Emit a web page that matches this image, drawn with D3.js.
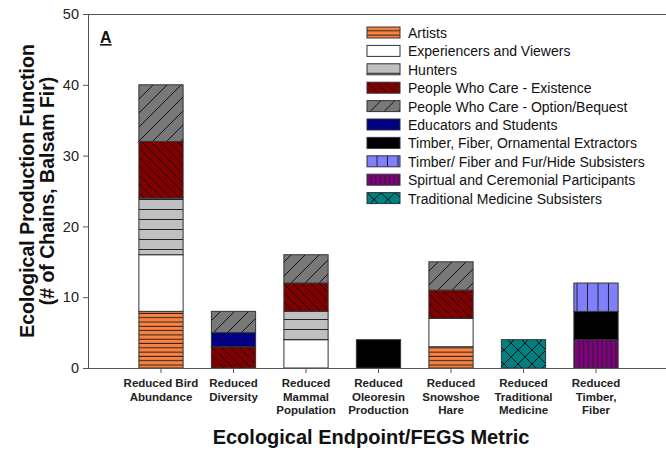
<!DOCTYPE html>
<html>
<head>
<meta charset="utf-8">
<script src="https://cdn.jsdelivr.net/npm/d3@7"></script>
<style>
  body { margin: 0; background: #fff; }
  text { font-family: Arial, "Liberation Sans", sans-serif; }
</style>
</head>
<body>
<div class="chart"></div>
<script>
// categories (x axis), one entry per bar, split into label lines
var categories = ["Bird", "Diversity", "Mammal", "Oleoresin", "Hare", "Medicine", "Timber"];
var categoryLines = [
  ["Reduced Bird", "Abundance"],
  ["Reduced", "Diversity"],
  ["Reduced", "Mammal", "Population"],
  ["Reduced", "Oleoresin", "Production"],
  ["Reduced", "Snowshoe", "Hare"],
  ["Reduced", "Traditional", "Medicine"],
  ["Reduced", "Timber,", "Fiber"]
];

// legend order
var groups = [
  "Artists",
  "Experiencers and Viewers",
  "Hunters",
  "People Who Care - Existence",
  "People Who Care - Option/Bequest",
  "Educators and Students",
  "Timber, Fiber, Ornamental Extractors",
  "Timber/ Fiber and Fur/Hide Subsisters",
  "Spirtual and Ceremonial Participants",
  "Traditional Medicine Subsisters"
];

// values per group, same order as categories
var artists      = [8, 0, 0, 0, 3, 0, 0];
var experiencers = [8, 0, 4, 0, 4, 0, 0];
var hunters      = [8, 0, 4, 0, 0, 0, 0];
var existence    = [8, 3, 4, 0, 4, 0, 0];
var option       = [8, 3, 4, 0, 4, 0, 0];
var educators    = [0, 2, 0, 0, 0, 0, 0];
var extractors   = [0, 0, 0, 4, 0, 0, 4];
var subsisters   = [0, 0, 0, 0, 0, 0, 4];
var spiritual    = [0, 0, 0, 0, 0, 0, 4];
var tradMedicine = [0, 0, 0, 0, 0, 4, 0];

var seriesValues = [artists, experiencers, hunters, existence, option,
  educators, extractors, subsisters, spiritual, tradMedicine];

// bottom to top order in the bars
var stackOrder = [8, 0, 1, 2, 3, 5, 4, 6, 7, 9];

var yTicks = [0, 10, 20, 30, 40, 50];

// build table for d3.stack
var table = categories.map(function (c, i) {
  var row = { category: c };
  groups.forEach(function (g, j) { row[g] = seriesValues[j][i]; });
  return row;
});

var width = 666;
var height = 452;
var plotLeft = 88, plotTop = 14, plotBottom = 368;

var svg = d3.select(".chart").append("svg")
  .attr("width", width)
  .attr("height", height);

// hatch patterns
var defs = svg.append("defs");
function pattern(id, size, bg, draw) {
  var p = defs.append("pattern")
    .attr("id", id)
    .attr("patternUnits", "userSpaceOnUse")
    .attr("width", size)
    .attr("height", size);
  p.append("rect").attr("width", size).attr("height", size).attr("fill", bg);
  draw(p, size);
}
function hLine(p, s) {
  p.append("line").attr("x1", 0).attr("x2", s).attr("y1", s - 0.5).attr("y2", s - 0.5)
    .attr("stroke", "#222").attr("stroke-width", 1);
}
function vLine(p, s) {
  p.append("line").attr("y1", 0).attr("y2", s).attr("x1", s - 0.5).attr("x2", s - 0.5)
    .attr("stroke", "#222").attr("stroke-width", 1);
}
function backDiag(p, s) {
  p.append("path").attr("d", "M0,0L" + s + "," + s + "M-1," + (s - 1) + "L1," + (s + 1) + "M" + (s - 1) + ",-1L" + (s + 1) + ",1")
    .attr("stroke", "#111").attr("stroke-width", 1);
}
function fwdDiag(p, s) {
  p.append("path").attr("d", "M0," + s + "L" + s + ",0M-1,1L1,-1M" + (s - 1) + "," + (s + 1) + "L" + (s + 1) + "," + (s - 1))
    .attr("stroke", "#111").attr("stroke-width", 1);
}

pattern("p0", 4.3, "#fd8240", hLine);
pattern("p2", 10, "#c0c0c0", hLine);
pattern("p3", 9, "#800000", backDiag);
pattern("p4", 14, "#787878", fwdDiag);
pattern("p7", 10.5, "#8080ff", vLine);
pattern("p8", 4.6, "#800080", vLine);
pattern("p9", 14, "#008080", function (p, s) { backDiag(p, s); fwdDiag(p, s); });

var fills = ["url(#p0)", "#ffffff", "url(#p2)", "url(#p3)", "url(#p4)",
  "#000080", "#000000", "url(#p7)", "url(#p8)", "url(#p9)"];

// scales
var x = d3.scaleBand()
  .domain(categories)
  .range([124.75, 632.25])
  .paddingInner(0.39)
  .paddingOuter(0.195);

var y = d3.scaleLinear().domain([0, 50]).range([plotBottom, plotTop]);

// bars
var stack = d3.stack()
  .keys(stackOrder.map(function (i) { return groups[i]; }));
var layers = stack(table);

var bars = svg.append("g");
layers.forEach(function (layer) {
  var gi = groups.indexOf(layer.key);
  bars.append("g")
    .selectAll("rect")
    .data(layer.filter(function (d) { return d[1] > d[0]; }))
    .enter()
    .append("rect")
    .attr("x", function (d) { return x(d.data.category); })
    .attr("width", x.bandwidth())
    .attr("y", function (d) { return y(d[1]); })
    .attr("height", function (d) { return y(d[0]) - y(d[1]); })
    .attr("fill", fills[gi])
    .attr("stroke", "#333")
    .attr("stroke-width", 1);
});

// axes
var yAxis = svg.append("g")
  .attr("transform", "translate(" + plotLeft + ",0)")
  .call(d3.axisLeft(y).tickValues(yTicks).tickSize(5).tickPadding(4));
yAxis.select(".domain").attr("stroke", "#555");
yAxis.selectAll(".tick line").attr("stroke", "#555");
yAxis.selectAll(".tick text")
  .attr("font-size", 14.5)
  .attr("fill", "#222")
  .style("font-family", "Arial, 'Liberation Sans', sans-serif");

var xAxis = svg.append("g")
  .attr("transform", "translate(0," + plotBottom + ")")
  .call(d3.axisBottom(x).tickSize(5).tickFormat(""));
xAxis.select(".domain").remove();
xAxis.selectAll(".tick line").attr("stroke", "#555");

// bottom and top frame lines
svg.append("line").attr("x1", plotLeft).attr("x2", width).attr("y1", plotBottom + 0.5).attr("y2", plotBottom + 0.5)
  .attr("stroke", "#555");
svg.append("line").attr("x1", plotLeft).attr("x2", width).attr("y1", plotTop + 0.5).attr("y2", plotTop + 0.5)
  .attr("stroke", "#555");

// x tick labels
categories.forEach(function (c, i) {
  var t = svg.append("text")
    .attr("x", x(c) + x.bandwidth() / 2)
    .attr("y", 387)
    .attr("text-anchor", "middle")
    .attr("font-size", 11.5)
    .attr("font-weight", "bold")
    .attr("fill", "#222");
  categoryLines[i].forEach(function (line, k) {
    t.append("tspan")
      .attr("x", x(c) + x.bandwidth() / 2)
      .attr("dy", k === 0 ? 0 : 13.5)
      .text(line);
  });
});

// axis titles
svg.append("text")
  .attr("x", 371)
  .attr("y", 444)
  .attr("text-anchor", "middle")
  .attr("font-size", 20)
  .attr("font-weight", "bold")
  .attr("fill", "#111")
  .text("Ecological Endpoint/FEGS Metric");

var yTitle = svg.append("text")
  .attr("transform", "translate(34," + (plotTop + plotBottom) / 2 + ") rotate(-90)")
  .attr("text-anchor", "middle")
  .attr("font-size", 19.5)
  .attr("font-weight", "bold")
  .attr("fill", "#111");
yTitle.append("tspan").attr("x", 0).attr("y", 0).text("Ecological Production Function");
yTitle.append("tspan").attr("x", 0).attr("y", 20).text("(# of Chains, Balsam Fir)");

// panel letter
svg.append("text")
  .attr("x", 100)
  .attr("y", 43)
  .attr("font-size", 16)
  .attr("font-weight", "bold")
  .attr("fill", "#111")
  .attr("text-decoration", "underline")
  .text("A");

// legend
var legend = svg.append("g").attr("transform", "translate(367,27)");
groups.forEach(function (g, i) {
  var row = legend.append("g").attr("transform", "translate(0," + i * 18.4 + ")");
  row.append("rect")
    .attr("width", 33)
    .attr("height", 11)
    .attr("fill", fills[i])
    .attr("stroke", "#333");
  row.append("text")
    .attr("x", 41)
    .attr("y", 11)
    .attr("font-size", 14)
    .attr("fill", "#111")
    .text(g);
});
</script>
</body>
</html>
